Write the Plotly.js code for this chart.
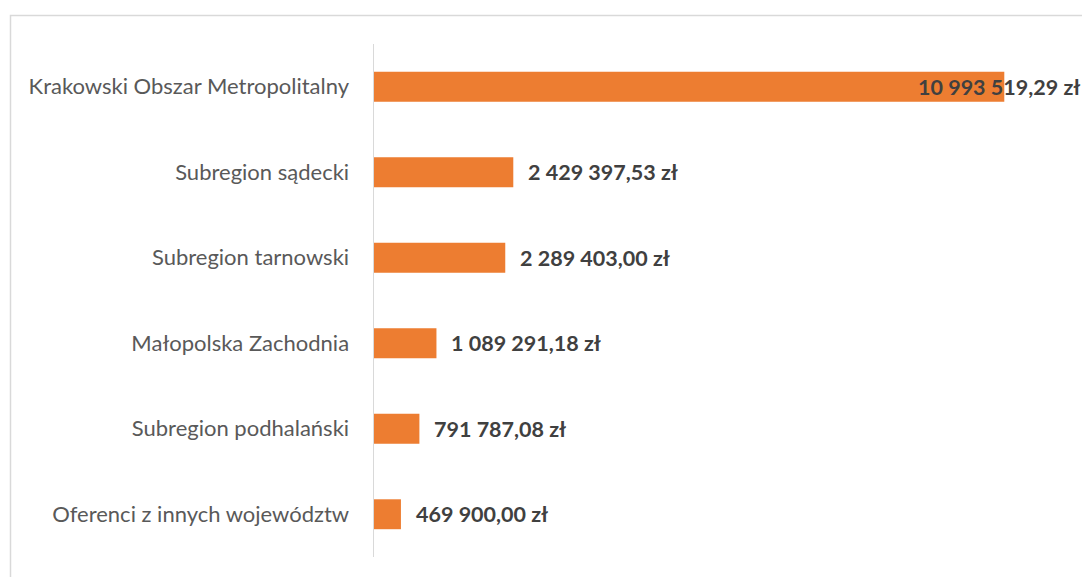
<!DOCTYPE html>
<html>
<head>
<meta charset="utf-8">
<script src="https://cdn.plot.ly/plotly-3.0.1.min.js"></script>
<style>
  html, body { margin: 0; padding: 0; background: #ffffff; }
  #chart { width: 1082px; height: 577px; }
</style>
</head>
<body>
<div id="chart"></div>
<script>
const categories = [
  "Krakowski Obszar Metropolitalny",
  "Subregion sądecki",
  "Subregion tarnowski",
  "Małopolska Zachodnia",
  "Subregion podhalański",
  "Oferenci z innych województw"
];
const values = [10993519.29, 2429397.53, 2289403.00, 1089291.18, 791787.08, 469900.00];

function formatPLN(v) {
  const parts = v.toFixed(2).split(".");
  const intPart = parts[0].replace(/\B(?=(\d{3})+(?!\d))/g, " ");
  return intPart + "," + parts[1] + " zł";
}

const W = 1082, H = 577;
const M = { l: 374, r: 20, t: 44, b: 20 };
const pw = W - M.l - M.r, ph = H - M.t - M.b;

const annotations = values.map((v, i) => ({
  x: v, y: categories[i], xref: "x", yref: "y",
  text: "<b>" + formatPLN(v) + "</b>",
  showarrow: false, xanchor: "left", yanchor: "middle",
  xshift: i === 0 ? -88 : 13,
  font: { family: "Lato, 'Open Sans', sans-serif", size: 21.5, color: "#404040" }
}));

const trace = {
  type: "bar",
  orientation: "h",
  x: values,
  y: categories,
  width: 0.35,
  marker: { color: "#ED7D31" },
  hoverinfo: "none"
};

const layout = {
  width: W, height: H,
  margin: M,
  paper_bgcolor: "#ffffff",
  plot_bgcolor: "#ffffff",
  showlegend: false,
  xaxis: {
    range: [0, 12000000],
    visible: false,
    fixedrange: true
  },
  yaxis: {
    type: "category",
    autorange: "reversed",
    showline: true,
    linecolor: "#d9d9d9",
    linewidth: 1.5,
    ticks: "",
    showgrid: false,
    zeroline: false,
    ticklabelstandoff: 19,
    tickfont: { family: "Lato, 'Open Sans', sans-serif", size: 22, color: "#595959" },
    fixedrange: true
  },
  annotations: annotations,
  shapes: [{
    type: "rect", xref: "paper", yref: "paper", layer: "below",
    x0: (10.5 - M.l) / pw, x1: (W + 20 - M.l) / pw,
    y0: (H - M.b - 600) / ph, y1: (H - M.b - 15.5) / ph,
    line: { color: "#d9d9d9", width: 1.5 }
  }]
};

Plotly.newPlot("chart", [trace], layout, { displayModeBar: false, staticPlot: true });
</script>
</body>
</html>
